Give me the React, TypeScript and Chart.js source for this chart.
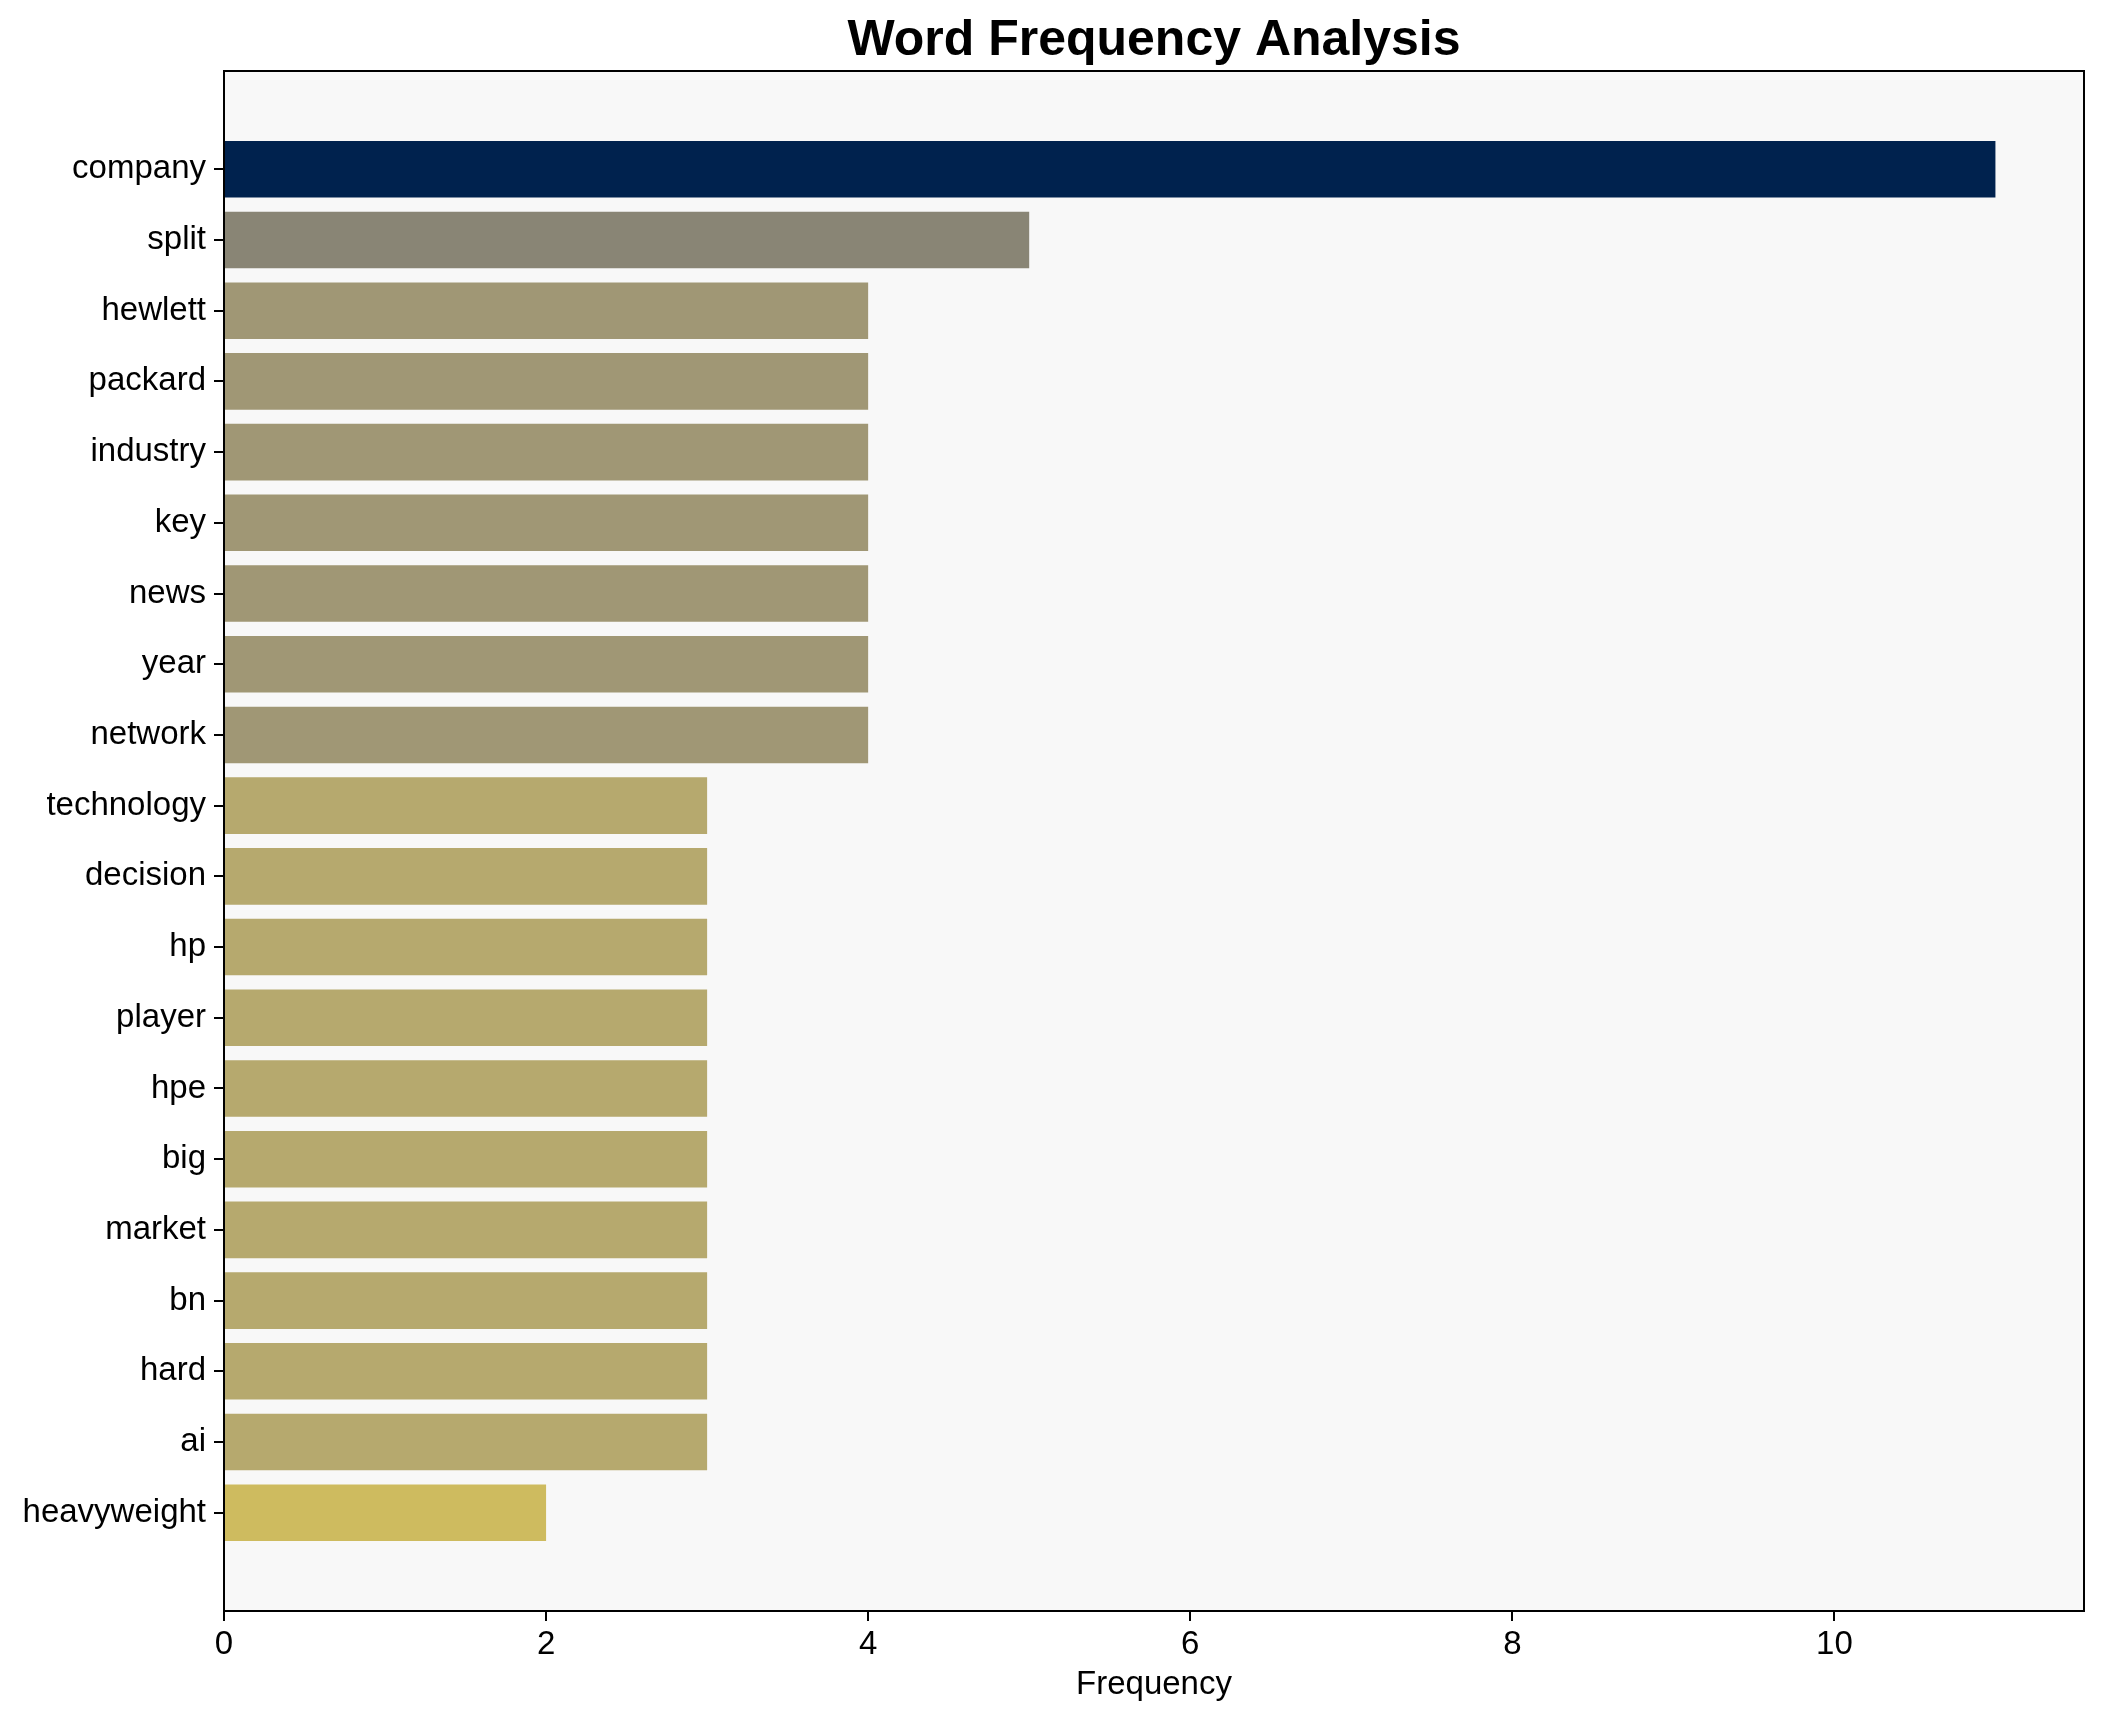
import React, { useEffect, useRef } from "react";
import { Chart, registerables } from "chart.js";

Chart.register(...registerables);

const words: string[] = [
  "company", "split", "hewlett", "packard", "industry", "key", "news", "year", "network",
  "technology", "decision", "hp", "player", "hpe", "big", "market", "bn", "hard", "ai", "heavyweight",
];
const frequencies: number[] = [11, 5, 4, 4, 4, 4, 4, 4, 4, 3, 3, 3, 3, 3, 3, 3, 3, 3, 3, 2];
const colorByFrequency: Record<number, string> = {
  11: "#00224e",
  5: "#898575",
  4: "#a09775",
  3: "#b6a96e",
  2: "#cebb5f",
};
const xTickValues: number[] = [0, 2, 4, 6, 8, 10];
const chartTitle = "Word Frequency Analysis";

const FONT = "Liberation Sans, Arial, Helvetica, sans-serif";

export default function App() {
  const canvasRef = useRef<HTMLCanvasElement | null>(null);

  useEffect(() => {
    document.body.style.margin = "0";
    const canvas = canvasRef.current;
    if (!canvas) return;

    const plotFrame = {
      id: "plotFrame",
      beforeDatasetsDraw(chart: any) {
        const { ctx, chartArea } = chart;
        ctx.save();
        ctx.fillStyle = "#f8f8f8";
        ctx.fillRect(chartArea.left, chartArea.top, chartArea.right - chartArea.left, chartArea.bottom - chartArea.top);
        ctx.restore();
      },
      afterDatasetsDraw(chart: any) {
        const { ctx, chartArea } = chart;
        ctx.save();
        ctx.strokeStyle = "#000000";
        ctx.lineWidth = 2;
        ctx.strokeRect(chartArea.left, chartArea.top, chartArea.right - chartArea.left, chartArea.bottom - chartArea.top);
        ctx.fillStyle = "#000000";
        ctx.font = `bold 50px ${FONT}`;
        ctx.textAlign = "center";
        ctx.textBaseline = "middle";
        ctx.fillText(chartTitle, (chartArea.left + chartArea.right) / 2, 41);
        ctx.restore();
      },
    };

    const chart = new Chart(canvas, {
      type: "bar",
      data: {
        datasets: [
          {
            label: "Frequency",
            data: frequencies.map((v, i) => ({ x: v, y: i })),
            backgroundColor: frequencies.map((v) => colorByFrequency[v]),
            borderWidth: 0,
            categoryPercentage: 1,
            barPercentage: 0.8,
          },
        ],
      },
      options: {
        indexAxis: "y",
        animation: false,
        responsive: false,
        maintainAspectRatio: false,
        devicePixelRatio: 1,
        layout: { padding: { left: 0, right: 21, top: 71, bottom: 0 } },
        plugins: {
          legend: { display: false },
          tooltip: { enabled: false },
          title: { display: false },
        },
        scales: {
          x: {
            type: "linear",
            min: 0,
            max: 11.55,
            offset: false,
            afterBuildTicks: (scale: any) => {
              scale.ticks = xTickValues.map((v) => ({ value: v }));
            },
            afterFit: (scale: any) => {
              scale.height = 111;
            },
            grid: {
              display: true,
              offset: false,
              drawOnChartArea: false,
              drawTicks: true,
              tickLength: 10,
              color: "#000000",
              lineWidth: 2,
            },
            border: { display: false },
            ticks: {
              color: "#000000",
              font: { family: FONT, size: 33 },
              padding: 4,
              maxRotation: 0,
              callback: (v: any) => String(v),
            },
            title: {
              display: true,
              text: "Frequency",
              color: "#000000",
              font: { family: FONT, size: 33 },
              padding: { top: 0, bottom: 17 },
            },
          },
          y: {
            type: "linear",
            reverse: true,
            min: -1.39,
            max: 20.39,
            offset: false,
            afterBuildTicks: (scale: any) => {
              scale.ticks = words.map((_, i) => ({ value: i }));
            },
            afterFit: (scale: any) => {
              scale.width = 224;
            },
            grid: {
              display: true,
              offset: false,
              drawOnChartArea: false,
              drawTicks: true,
              tickLength: 10,
              color: "#000000",
              lineWidth: 2,
            },
            border: { display: false },
            ticks: {
              color: "#000000",
              font: { family: FONT, size: 33 },
              padding: 8,
              autoSkip: false,
              callback: (v: any) => words[Number(v)] ?? "",
            },
          },
        },
      },
      plugins: [plotFrame],
    } as any);

    return () => {
      chart.destroy();
    };
  }, []);

  return (
    <div style={{ width: 2105, height: 1722, background: "#ffffff" }}>
      <canvas ref={canvasRef} width={2105} height={1722} style={{ width: 2105, height: 1722, display: "block" }} />
    </div>
  );
}
